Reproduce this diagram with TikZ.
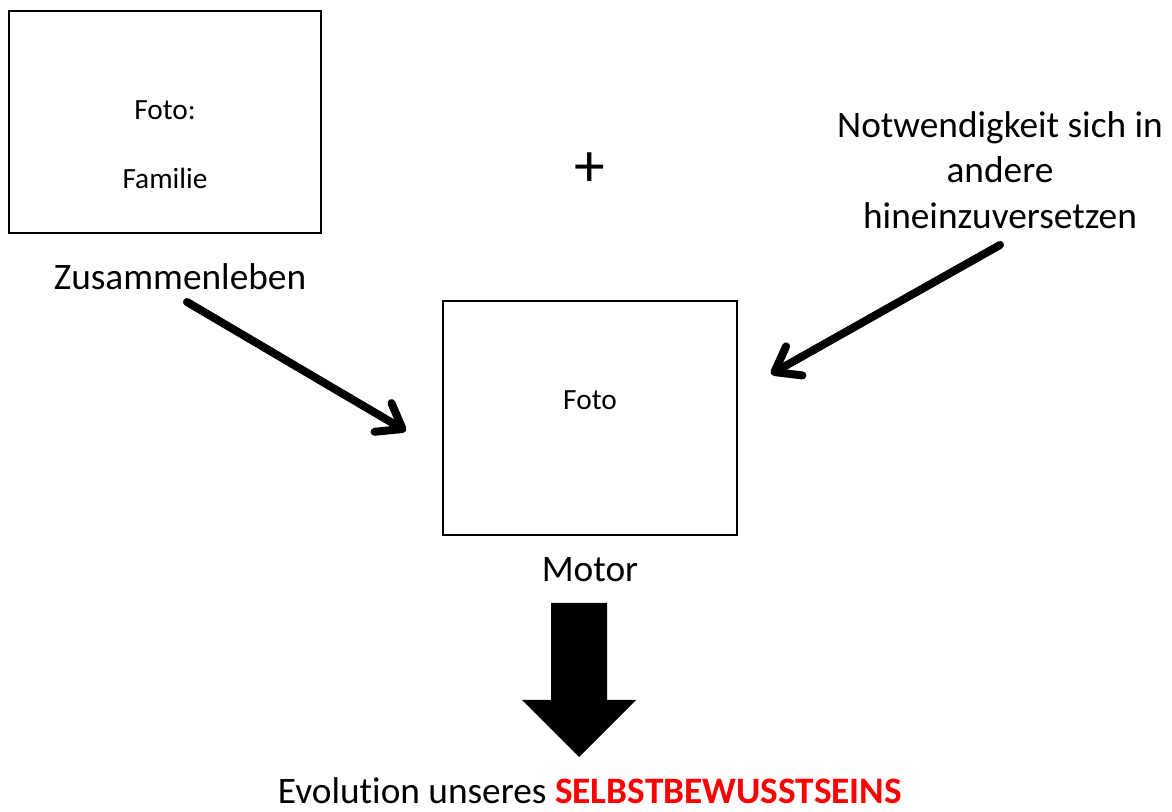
\documentclass[tikz,border=0pt]{standalone}
\usepackage{fontspec}
\setmainfont{Carlito}[RawFeature=-liga]
\usetikzlibrary{arrows.meta}
\definecolor{redtxt}{RGB}{255,0,0}
\begin{document}
\begin{tikzpicture}[x=0.75pt,y=-0.75pt,
  photobox/.style={draw=black,line width=0.8pt},
  small/.style={font=\fontsize{22}{26}\selectfont,inner sep=0pt},
  big/.style={font=\fontsize{28}{34}\selectfont,inner sep=0pt,align=center},
  bigline/.style={font=\fontsize{28}{34}\selectfont,inner sep=0pt},
  thinarrow/.style={line width=6pt,line cap=round,line join=round,-{Straight Barb[length=17pt,width=25pt,line cap=round,line join=round]}}]
\useasboundingbox (0,0) rectangle (1172,812);
\draw[photobox] (9,11) rectangle (321,233);
\node[small] (foto1) at (165,110) {Foto:};
\node[small] (fam) at (165,178) {Familie};
\node[big] (zus) at (180,277) {Zusammenleben};
\node[font=\fontsize{46}{46}\selectfont,inner sep=0pt] (plus) at (590,170) {+};
\node[big] (notw) at (1000,170) {Notwendigkeit sich in\\andere\\hineinzuversetzen};
\draw[photobox] (443,301) rectangle (737,535);
\node[small] (foto2) at (590,400) {Foto};
\node[big] (motor) at (590,570) {Motor};
\coordinate (a1s) at (187,302);
\coordinate (a1e) at (406,431);
\coordinate (a2s) at (1000,245);
\coordinate (a2e) at (771,374);
\draw[thinarrow] (a1s) -- (a1e);
\draw[thinarrow] (a2s) -- (a2e);
\fill (551,603) -- (607,603) -- (607,700) -- (636,700) -- (579,757) -- (522,700) -- (551,700) -- cycle;
\node[bigline,anchor=base] (evo) at (590,803) {Evolution unseres \textcolor{redtxt}{\bfseries SELBSTBEWUSSTSEINS}};
\end{tikzpicture}
\end{document}
